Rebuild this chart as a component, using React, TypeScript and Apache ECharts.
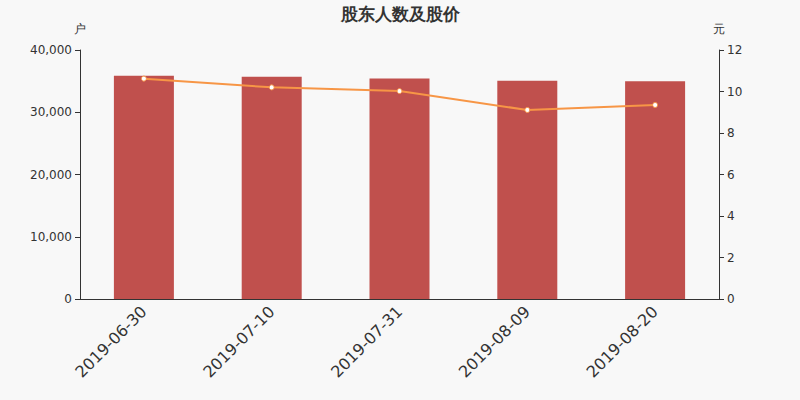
import React, { useEffect, useRef } from "react";
import * as echarts from "echarts";

const dates = ["2019-06-30", "2019-07-10", "2019-07-31", "2019-08-09", "2019-08-20"];
const holders = [35880, 35720, 35410, 35080, 34960];
const prices = [10.62, 10.2, 10.02, 9.11, 9.35];

const FONT = "DejaVu Sans, sans-serif";

export default function App() {
  const ref = useRef<HTMLDivElement>(null);

  useEffect(() => {
    if (!ref.current) return;
    document.body.style.margin = "0";
    const chart = echarts.init(ref.current, undefined, { renderer: "svg" });
    chart.setOption({
      animation: false,
      backgroundColor: "#f8f8f8",
      textStyle: { fontFamily: FONT },
      title: {
        text: "股东人数及股价",
        left: "center",
        top: 0,
        textStyle: { fontSize: 17, fontWeight: "bold", color: "#333", fontFamily: FONT },
      },
      grid: { left: 80, right: 81, top: 50, bottom: 101 },
      xAxis: {
        type: "category",
        data: dates,
        axisLine: { lineStyle: { color: "#333" } },
        axisTick: { alignWithLabel: false },
        axisLabel: { rotate: 45, fontSize: 16, color: "#333", margin: 10 },
      },
      yAxis: [
        {
          type: "value",
          name: "户",
          min: 0,
          max: 40000,
          interval: 10000,
          nameGap: 15,
          nameTextStyle: { color: "#333", fontSize: 12, align: "center" },
          axisLine: { show: true, lineStyle: { color: "#333" } },
          axisTick: { show: true },
          axisLabel: {
            color: "#333",
            fontSize: 12,
            formatter: (v: number) => v.toLocaleString("en-US"),
          },
          splitLine: { show: false },
        },
        {
          type: "value",
          name: "元",
          min: 0,
          max: 12,
          interval: 2,
          nameGap: 15,
          nameTextStyle: { color: "#333", fontSize: 12, align: "center" },
          axisLine: { show: true, lineStyle: { color: "#333" } },
          axisTick: { show: true },
          axisLabel: { color: "#333", fontSize: 12 },
          splitLine: { show: false },
        },
      ],
      series: [
        {
          name: "股东人数",
          type: "bar",
          data: holders,
          barWidth: 60,
          itemStyle: { color: "#c0504d" },
        },
        {
          name: "股价",
          type: "line",
          yAxisIndex: 1,
          data: prices,
          symbol: "circle",
          symbolSize: 5,
          lineStyle: { color: "#f79646", width: 2 },
          itemStyle: { color: "#fff", borderColor: "#f79646", borderWidth: 1 },
        },
      ],
    });
    return () => chart.dispose();
  }, []);

  return <div ref={ref} style={{ width: 800, height: 400 }} />;
}
